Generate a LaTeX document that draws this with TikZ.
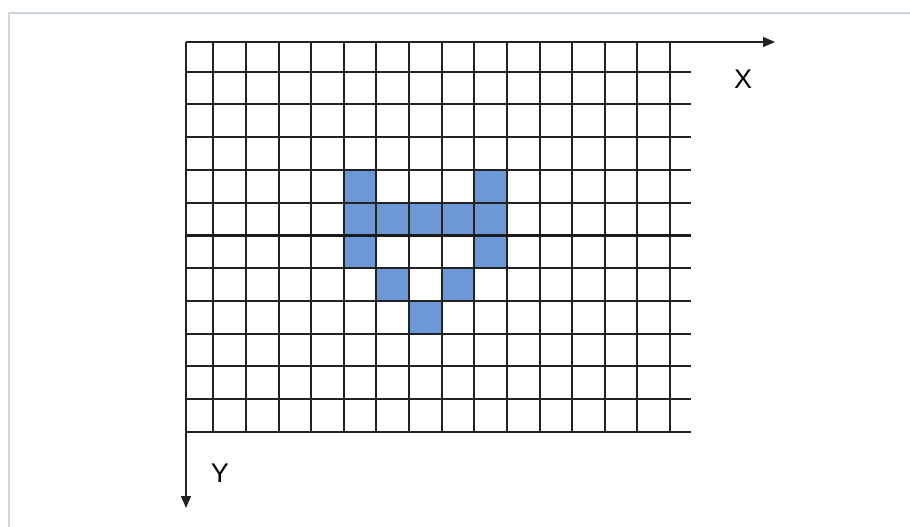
\documentclass[tikz,border=0pt]{standalone}
\usepackage{fontspec}
\setmainfont{Liberation Sans}
\usetikzlibrary{arrows.meta}
\definecolor{cellblue}{RGB}{108,153,214}
\definecolor{gridline}{RGB}{34,34,34}
\definecolor{frametop}{RGB}{200,212,208}
\definecolor{frameleft}{RGB}{205,215,230}
\begin{document}
\begin{tikzpicture}[x=1pt,y=-1pt,
  gridrule/.style={draw=gridline,line width=2pt},
  midrule/.style={draw=gridline!80!black,line width=3pt},
  axisrule/.style={draw=gridline,line width=1.6pt,-{Triangle[length=12pt,width=10pt]}},
  cell/.style={fill=cellblue,draw=none},
  axislabel/.style={font=\fontsize{27}{27}\selectfont,text=black,inner sep=0pt}]
\useasboundingbox (0,0) rectangle (910,527);
\fill[white] (0,0) rectangle (910,527);
% frame
\draw[frametop,line width=2pt] (8,13) -- (910,13);
\draw[frameleft,line width=2pt] (9,13) -- (9,527);
% blue cells: x-range / y-range
\foreach \xa/\xb/\ya/\yb in {
  344/376/170/203, 474/507/170/203,
  344/376/203/235, 376/409/203/235, 409/442/203/235, 442/474/203/235, 474/507/203/235,
  344/376/235/268, 474/507/235/268,
  376/409/268/301, 442/474/268/301,
  409/442/301/334}
  \fill[cell] (\xa,\ya) rectangle (\xb,\yb);
% vertical grid lines
\foreach \x in {213,246,279,311,344,376,409,442,474,507,540,572,605,637,670}
  \draw[gridrule] (\x,42) -- (\x,432);
% horizontal grid lines
\foreach \y in {72,104,137,170,203,268,301,334,366,399,432}
  \draw[gridrule] (186,\y) -- (691,\y);
\draw[midrule] (186,235) -- (691,235);
% axes
\coordinate (O) at (186,42);
\coordinate (xend) at (775,42);
\coordinate (yend) at (186,508);
\draw[axisrule] (O) -- (xend);
\draw[axisrule] (O) -- (yend);
\node[axislabel] (xl) at (743,79) {X};
\node[axislabel] (yl) at (220,473) {Y};
\end{tikzpicture}
\end{document}
